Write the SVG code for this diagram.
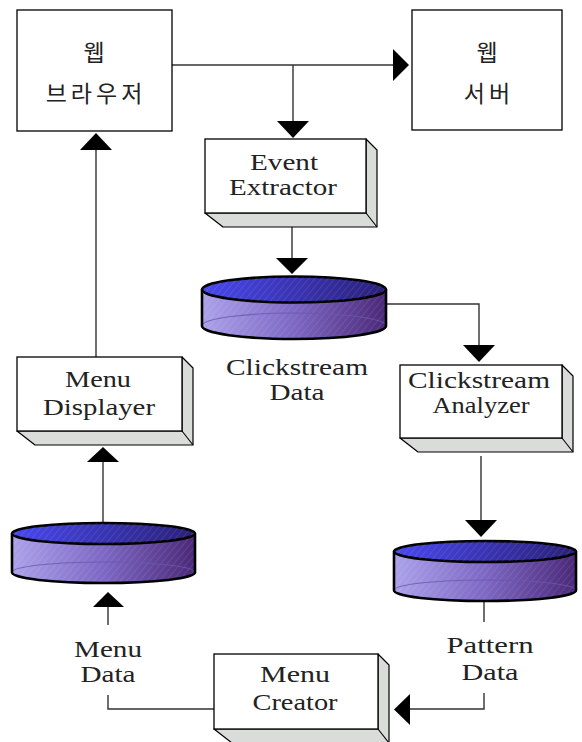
<svg xmlns="http://www.w3.org/2000/svg" width="582" height="742" viewBox="0 0 582 742">
  <style>
    .box { fill: #ffffff; stroke: #000000; stroke-width: 1.3; }
    .depth { fill: #d9dcd8; stroke: #000000; stroke-width: 1.2; stroke-linejoin: round; }
    .lbl { font-family: "Liberation Serif", "DejaVu Serif", serif; font-size: 24px; fill: #222222; text-anchor: middle; }
    .ko { font-family: "Noto Sans CJK KR", "Noto Sans", sans-serif; font-size: 23px; fill: #222222; text-anchor: middle; letter-spacing: 4px; }
    .line { fill: none; stroke: #333333; stroke-width: 1.4; }
    .head { fill: #000000; stroke: none; }
    .cyl-edge { stroke: #000000; stroke-width: 2.6; }
    .cyl-back { fill: none; stroke: #6a58b0; stroke-width: 1.1; opacity: 0.8; }
  </style>
  <defs>
    <linearGradient id="topGrad" x1="0" y1="0" x2="1" y2="0">
      <stop offset="0" stop-color="#4848ee"/>
      <stop offset="1" stop-color="#2a2078"/>
    </linearGradient>
    <linearGradient id="sideGrad" x1="0" y1="0" x2="1" y2="0">
      <stop offset="0" stop-color="#aca2ea"/>
      <stop offset="0.5" stop-color="#7d68c4"/>
      <stop offset="1" stop-color="#4b2878"/>
    </linearGradient>
    <pattern id="hatch" width="5" height="5" patternUnits="userSpaceOnUse" patternTransform="rotate(40)">
      <line x1="0" y1="0" x2="0" y2="5" stroke="#ffffff" stroke-width="1" opacity="0.18"/>
    </pattern>
  </defs>

  <!-- connectors -->
  <g id="connectors">
    <path class="line" d="M172,65 H395"/>
    <polygon class="head" points="393,49 409,65 393,81"/>
    <path class="line" d="M293,65 V123"/>
    <polygon class="head" points="277,121 309,121 293,138"/>
    <path class="line" d="M292,227 V259"/>
    <polygon class="head" points="276,258 308,258 292,274"/>
    <path class="line" d="M386,304 H479 V347"/>
    <polygon class="head" points="463,345 495,345 479,362"/>
    <path class="line" d="M481,456 V522"/>
    <polygon class="head" points="465,520 497,520 481,537"/>
    <path class="line" d="M484,601 V622"/>
    <path class="line" d="M484,693 V709 H408"/>
    <polygon class="head" points="410,694 410,725 394,709.5"/>
    <path class="line" d="M214,709 H108 V695"/>
    <path class="line" d="M108,625 V605"/>
    <polygon class="head" points="93,607 124,607 108,592"/>
    <path class="line" d="M103,522 V461"/>
    <polygon class="head" points="87,462 119,462 103,447"/>
    <path class="line" d="M96,357 V149"/>
    <polygon class="head" points="80,150 112,150 96,133"/>
  </g>

  <!-- web browser -->
  <g id="web-browser">
    <rect class="box" x="17" y="10" width="155" height="121"/>
    <text class="ko" x="96" y="61">웹</text>
    <text class="ko" x="96" y="102">브라우저</text>
  </g>

  <!-- web server -->
  <g id="web-server">
    <rect class="box" x="412" y="10" width="150" height="120"/>
    <text class="ko" x="489" y="61">웹</text>
    <text class="ko" x="489" y="102">서버</text>
  </g>

  <!-- event extractor -->
  <g id="event-extractor">
    <polygon class="depth" points="366,139 377,150 377,227 223,227 205,213 366,213"/>
    <line x1="366" y1="213" x2="377" y2="227" stroke="#000" stroke-width="1.1"/>
    <rect class="box" x="205" y="139" width="161" height="74"/>
    <text class="lbl" x="284" y="170" textLength="68" lengthAdjust="spacingAndGlyphs">Event</text>
    <text class="lbl" x="283" y="195" textLength="108" lengthAdjust="spacingAndGlyphs">Extractor</text>
  </g>

  <!-- clickstream data -->
  <g id="clickstream-data">
    <path d="M202,289.5 V326 A92,13 0 0 0 386,326 V289.5 Z" fill="url(#sideGrad)"/>
    <path d="M202,289.5 V326 A92,13 0 0 0 386,326 V289.5 Z" fill="url(#hatch)"/>
    <path class="cyl-back" d="M202,326 A92,13 0 0 1 386,326"/>
    <path class="cyl-edge" fill="none" d="M202,289.5 V326 A92,13 0 0 0 386,326 V289.5"/>
    <ellipse class="cyl-edge" cx="294" cy="289.5" rx="92" ry="13" fill="url(#topGrad)"/>
    <ellipse cx="294" cy="289.5" rx="92" ry="13" fill="url(#hatch)"/>
    <text class="lbl" x="297" y="375" textLength="142" lengthAdjust="spacingAndGlyphs">Clickstream</text>
    <text class="lbl" x="297" y="400" textLength="55" lengthAdjust="spacingAndGlyphs">Data</text>
  </g>

  <!-- clickstream analyzer -->
  <g id="clickstream-analyzer">
    <polygon class="depth" points="562,365 573,376 573,452 418,452 400,438 562,438"/>
    <line x1="562" y1="438" x2="573" y2="452" stroke="#000" stroke-width="1.1"/>
    <rect class="box" x="400" y="365" width="162" height="73"/>
    <text class="lbl" x="479" y="388" textLength="142" lengthAdjust="spacingAndGlyphs">Clickstream</text>
    <text class="lbl" x="481" y="413" textLength="97" lengthAdjust="spacingAndGlyphs">Analyzer</text>
  </g>

  <!-- pattern data -->
  <g id="pattern-data">
    <path d="M394,551.5 V590.5 A91,10.5 0 0 0 576,590.5 V551.5 Z" fill="url(#sideGrad)"/>
    <path d="M394,551.5 V590.5 A91,10.5 0 0 0 576,590.5 V551.5 Z" fill="url(#hatch)"/>
    <path class="cyl-back" d="M394,590.5 A91,10.5 0 0 1 576,590.5"/>
    <path class="cyl-edge" fill="none" d="M394,551.5 V590.5 A91,10.5 0 0 0 576,590.5 V551.5"/>
    <ellipse class="cyl-edge" cx="485" cy="551.5" rx="91" ry="10.5" fill="url(#topGrad)"/>
    <ellipse cx="485" cy="551.5" rx="91" ry="10.5" fill="url(#hatch)"/>
    <text class="lbl" x="490" y="653" textLength="87" lengthAdjust="spacingAndGlyphs">Pattern</text>
    <text class="lbl" x="490" y="680" textLength="57" lengthAdjust="spacingAndGlyphs">Data</text>
  </g>

  <!-- menu creator -->
  <g id="menu-creator">
    <polygon class="depth" points="378,654 389,665 389,743 232,743 214,729 378,729"/>
    <line x1="378" y1="729" x2="389" y2="743" stroke="#000" stroke-width="1.1"/>
    <rect class="box" x="214" y="654" width="164" height="75"/>
    <text class="lbl" x="295" y="682" textLength="70" lengthAdjust="spacingAndGlyphs">Menu</text>
    <text class="lbl" x="295" y="710" textLength="85" lengthAdjust="spacingAndGlyphs">Creator</text>
  </g>

  <!-- menu data -->
  <g id="menu-data">
    <path d="M12,533.5 V572.5 A91.5,10.5 0 0 0 195,572.5 V533.5 Z" fill="url(#sideGrad)"/>
    <path d="M12,533.5 V572.5 A91.5,10.5 0 0 0 195,572.5 V533.5 Z" fill="url(#hatch)"/>
    <path class="cyl-back" d="M12,572.5 A91.5,10.5 0 0 1 195,572.5"/>
    <path class="cyl-edge" fill="none" d="M12,533.5 V572.5 A91.5,10.5 0 0 0 195,572.5 V533.5"/>
    <ellipse class="cyl-edge" cx="103.5" cy="533.5" rx="91.5" ry="10.5" fill="url(#topGrad)"/>
    <ellipse cx="103.5" cy="533.5" rx="91.5" ry="10.5" fill="url(#hatch)"/>
    <text class="lbl" x="108" y="657" textLength="68" lengthAdjust="spacingAndGlyphs">Menu</text>
    <text class="lbl" x="108" y="682" textLength="55" lengthAdjust="spacingAndGlyphs">Data</text>
  </g>

  <!-- menu displayer -->
  <g id="menu-displayer">
    <polygon class="depth" points="182,357 193,368 193,445 35,445 17,431 182,431"/>
    <line x1="182" y1="431" x2="193" y2="445" stroke="#000" stroke-width="1.1"/>
    <rect class="box" x="17" y="357" width="165" height="74"/>
    <text class="lbl" x="98" y="387" textLength="66" lengthAdjust="spacingAndGlyphs">Menu</text>
    <text class="lbl" x="99" y="415" textLength="112" lengthAdjust="spacingAndGlyphs">Displayer</text>
  </g>
</svg>
